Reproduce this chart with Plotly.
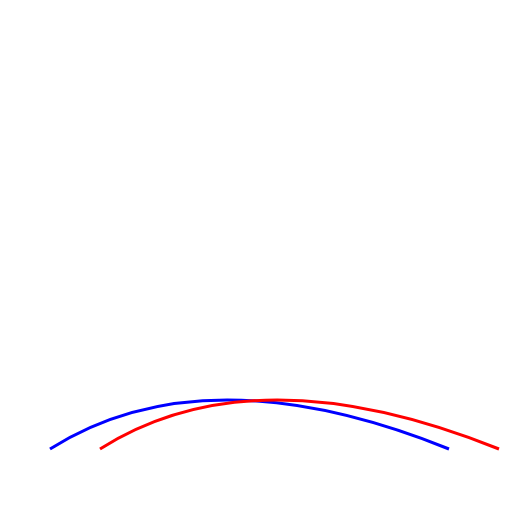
import plotly.graph_objects as go

# Quadratic curve definitions (start, control, end) in canvas units
curve_names = ["blue", "red"]
start_x = [50, 100]
start_y = [449, 449]
ctrl_x = [205, 255]
ctrl_y = [351, 351]
end_x = [449, 499]
end_y = [449, 449]
colors = ["#0000ff", "#ff0000"]

fig = go.Figure()
for i in range(len(curve_names)):
    path = f"M {start_x[i]},{start_y[i]} Q {ctrl_x[i]},{ctrl_y[i]} {end_x[i]},{end_y[i]}"
    fig.add_shape(type="path", path=path, xref="x", yref="y",
                  line=dict(color=colors[i], width=3))

fig.update_layout(
    width=512, height=512,
    margin=dict(l=0, r=0, t=0, b=0),
    plot_bgcolor="white", paper_bgcolor="white",
    showlegend=False,
    xaxis=dict(range=[8, 520], visible=False, fixedrange=True),
    yaxis=dict(range=[520, 8], visible=False, fixedrange=True),
)
fig.write_html("out.html", config={"displayModeBar": False})
